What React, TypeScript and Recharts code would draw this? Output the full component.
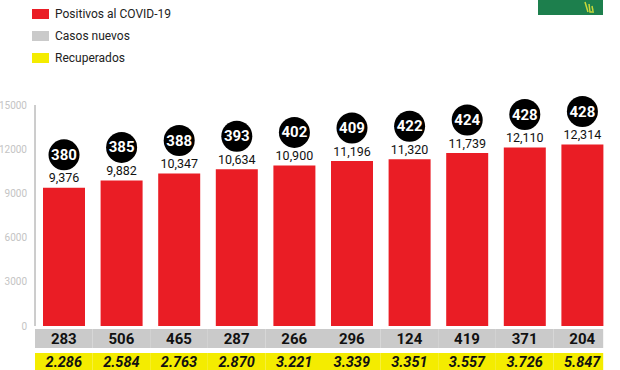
import * as React from 'react';
import { ComposedChart, Bar, XAxis, YAxis, LabelList } from 'recharts';

const dias = ['1', '2', '3', '4', '5', '6', '7', '8', '9', '10'];
const positivos = [9376, 9882, 10347, 10634, 10900, 11196, 11320, 11739, 12110, 12314];
const circulos = [380, 385, 388, 393, 402, 409, 422, 424, 428, 428];
const nuevos = [283, 506, 465, 287, 266, 296, 124, 419, 371, 204];
const recuperados = [2286, 2584, 2763, 2870, 3221, 3339, 3351, 3557, 3726, 5847];
const yTicks = [0, 3000, 6000, 9000, 12000, 15000];

const RED = '#ea1d25';
const GRAY = '#cacaca';
const YELLOW = '#f4ec00';
const FONT = 'Roboto, "Noto Sans", sans-serif';

const data = dias.map((d, i) => ({
  dia: d,
  positivos: positivos[i],
}));

const BAND = 57.6;
const BAR = 42;

const comma = (v: number) => v.toLocaleString('en-US');
const dot = (v: number) => v.toLocaleString('en-US').replace(',', '.');

function RowTick(props: any) {
  const { x, y, payload } = props;
  const i = dias.indexOf(String(payload.value));
  const left = x - BAND / 2;
  const right = i === dias.length - 1 ? x + BAR / 2 : x + BAND / 2;
  return (
    <g>
      <rect x={left} y={y + 3} width={right - left} height={19} fill={GRAY} />
      <text
        x={x}
        y={y + 13}
        textAnchor="middle"
        dominantBaseline="central"
        fontFamily={FONT}
        fontWeight={700}
        fontSize={15}
        fill="#111"
      >
        {nuevos[i]}
      </text>
      <rect x={left} y={y + 27} width={right - left} height={20} fill={YELLOW} />
      <text
        x={x}
        y={y + 36}
        textAnchor="middle"
        dominantBaseline="central"
        fontFamily={FONT}
        fontWeight={700}
        fontStyle="italic"
        fontSize={14.5}
        fill="#111"
      >
        {dot(recuperados[i])}
      </text>
    </g>
  );
}

function TopLabel(props: any) {
  const { x, y, width, value, index } = props;
  const cx = x + width / 2;
  return (
    <g>
      <circle cx={cx} cy={y - 33} r={15.5} fill="#000" />
      <text
        x={cx}
        y={y - 33}
        textAnchor="middle"
        dominantBaseline="central"
        fontFamily={FONT}
        fontWeight={700}
        fontSize={15}
        fill="#fff"
      >
        {circulos[index]}
      </text>
      <text
        x={cx}
        y={y - 10}
        textAnchor="middle"
        dominantBaseline="central"
        fontFamily={FONT}
        fontSize={12.5}
        fill="#111"
      >
        {comma(value)}
      </text>
    </g>
  );
}

const legend = [
  { label: 'Positivos al COVID-19', color: RED },
  { label: 'Casos nuevos', color: GRAY },
  { label: 'Recuperados', color: YELLOW },
];

export default function App() {
  return (
    <div style={{ position: 'absolute', left: 0, top: 0, width: 620, height: 370, background: '#fff' }}>
      <div style={{ position: 'absolute', left: 538, top: 0, width: 65, height: 15, background: '#1d7f4d' }}>
        <svg width={65} height={15} style={{ position: 'absolute', left: 0, top: 0 }}>
          <path d="M47 2 L50 12 M51 4 L52 12 L56 12 M54 6 L55 11" stroke="#c8d83a" strokeWidth={1.5} fill="none" />
        </svg>
      </div>
      {legend.map((l, i) => (
        <div
          key={l.label}
          style={{
            position: 'absolute',
            left: 32,
            top: 7 + i * 22,
            display: 'flex',
            alignItems: 'center',
            fontFamily: FONT,
            fontSize: 12,
            color: '#222',
          }}
        >
          <span style={{ width: 17, height: 10, background: l.color, display: 'inline-block', marginRight: 6 }} />
          {l.label}
        </div>
      ))}
      <ComposedChart
        width={620}
        height={370}
        data={data}
        margin={{ top: 105, right: 9, bottom: 0, left: 0 }}
        barSize={BAR}
      >
        <YAxis
          domain={[0, 15000]}
          ticks={yTicks}
          width={35}
          tickLine={false}
          axisLine={{ stroke: '#9a9a9a' }}
          tick={{ fill: '#c4c4c4', fontSize: 10, fontFamily: FONT }}
        />
        <XAxis
          dataKey="dia"
          height={44}
          interval={0}
          tickLine={false}
          axisLine={false}
          tickSize={0}
          tickMargin={0}
          tick={<RowTick />}
        />
        <Bar dataKey="positivos" fill={RED} isAnimationActive={false}>
          <LabelList dataKey="positivos" content={<TopLabel />} />
        </Bar>
      </ComposedChart>
    </div>
  );
}
